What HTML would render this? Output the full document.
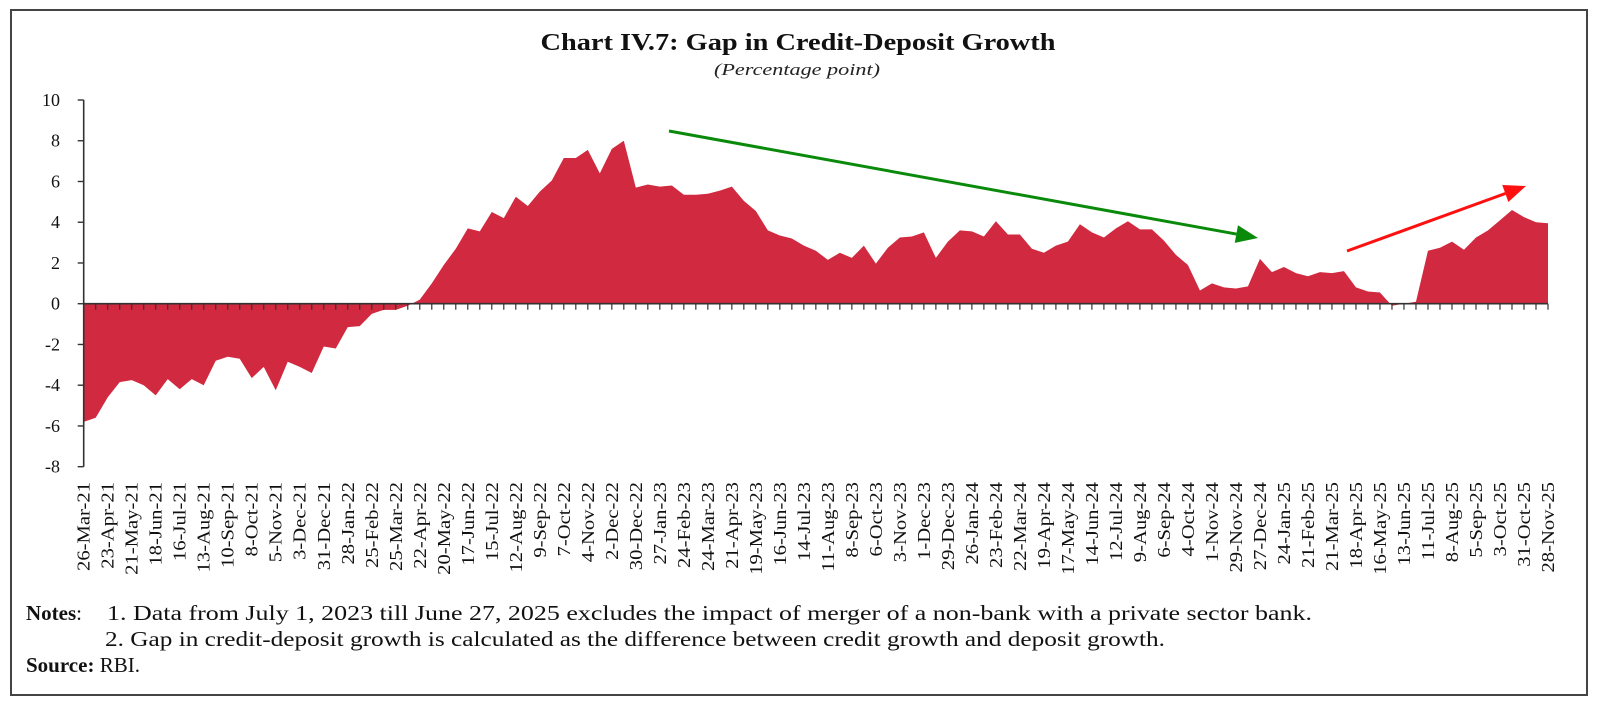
<!DOCTYPE html>
<html><head><meta charset="utf-8"><style>
html,body{margin:0;padding:0;background:#fff;}
svg{display:block;font-family:"Liberation Serif",serif;}
</style></head><body>
<svg id="chart" width="1600" height="707" viewBox="0 0 1600 707" xmlns="http://www.w3.org/2000/svg">
<rect x="11" y="10" width="1576" height="685" fill="#fff" stroke="#444" stroke-width="2"/>
<text x="798" y="50" text-anchor="middle" font-size="24" font-weight="bold" fill="#111" textLength="515" lengthAdjust="spacingAndGlyphs">Chart IV.7: Gap in Credit-Deposit Growth</text>
<text x="797" y="75" text-anchor="middle" font-size="17" font-style="italic" fill="#222" textLength="166" lengthAdjust="spacingAndGlyphs">(Percentage point)</text>
<g id="plot"></g>
<text x="26" y="620" font-size="21" fill="#111"><tspan font-weight="bold">Notes</tspan>:</text>
<text x="107" y="620" font-size="21" fill="#111" textLength="1205" lengthAdjust="spacingAndGlyphs">1. Data from July 1, 2023 till June 27, 2025 excludes the impact of merger of a non-bank with a private sector bank.</text>
<text x="105" y="646" font-size="21" fill="#111" textLength="1060" lengthAdjust="spacingAndGlyphs">2. Gap in credit-deposit growth is calculated as the difference between credit growth and deposit growth.</text>
<text x="26" y="672" font-size="21" fill="#111"><tspan font-weight="bold">Source:</tspan> RBI.</text>
</svg>
<script>
const gapValues = [-5.8,-5.6,-4.6,-3.85,-3.75,-4.0,-4.5,-3.7,-4.2,-3.7,-4.0,-2.8,-2.6,-2.7,-3.65,-3.1,-4.25,-2.85,-3.1,-3.4,-2.1,-2.2,-1.15,-1.1,-0.5,-0.3,-0.3,-0.1,0.2,
1.0,1.9,2.7,3.7,3.55,4.5,4.2,5.25,4.8,5.5,6.05,7.15,7.15,7.55,6.4,7.6,8.0,5.7,5.85,5.75,5.8,5.35,5.35,5.4,5.55,5.75,5.05,4.55,3.6,3.35,3.2,2.85,2.6,
2.15,2.5,2.25,2.85,1.97,2.75,3.25,3.3,3.5,2.25,3.05,3.6,3.55,3.3,4.05,3.4,3.4,2.7,2.5,2.85,3.05,3.9,3.5,3.25,3.7,4.05,3.65,3.65,3.1,2.4,1.9,
0.65,1.0,0.8,0.75,0.85,2.2,1.55,1.8,1.5,1.35,1.55,1.5,1.6,0.8,0.6,0.55,-0.1,0.0,0.1,2.6,2.75,3.05,2.65,3.25,3.6,4.1,4.6,4.25,4.0,3.95];
const xLabels = ["26-Mar-21","23-Apr-21","21-May-21","18-Jun-21","16-Jul-21","13-Aug-21","10-Sep-21","8-Oct-21","5-Nov-21","3-Dec-21","31-Dec-21","28-Jan-22","25-Feb-22","25-Mar-22","22-Apr-22","20-May-22","17-Jun-22","15-Jul-22","12-Aug-22","9-Sep-22","7-Oct-22","4-Nov-22","2-Dec-22","30-Dec-22","27-Jan-23","24-Feb-23","24-Mar-23","21-Apr-23","19-May-23","16-Jun-23","14-Jul-23","11-Aug-23","8-Sep-23","6-Oct-23","3-Nov-23","1-Dec-23","29-Dec-23","26-Jan-24","23-Feb-24","22-Mar-24","19-Apr-24","17-May-24","14-Jun-24","12-Jul-24","9-Aug-24","6-Sep-24","4-Oct-24","1-Nov-24","29-Nov-24","27-Dec-24","24-Jan-25","21-Feb-25","21-Mar-25","18-Apr-25","16-May-25","13-Jun-25","11-Jul-25","8-Aug-25","5-Sep-25","3-Oct-25","31-Oct-25","28-Nov-25"];
const yTicks = [10,8,6,4,2,0,-2,-4,-6,-8];

const NS = "http://www.w3.org/2000/svg";
const plot = document.getElementById('plot');
const X0 = 83.7, X1 = 1548, Y_TOP = 100, Y_BOT = 466.7, VMAX = 10, VMIN = -8;
const n = gapValues.length;
function xPos(i){ return X0 + (X1 - X0) * i / (n - 1); }
function yPos(v){ return Y_TOP + (VMAX - v) / (VMAX - VMIN) * (Y_BOT - Y_TOP); }
function mk(tag, attrs){ const e = document.createElementNS(NS, tag); for (const k in attrs) e.setAttribute(k, attrs[k]); plot.appendChild(e); return e; }

let d = `M${xPos(0)},${yPos(0)}`;
gapValues.forEach((v, i) => { d += ` L${xPos(i).toFixed(2)},${yPos(v).toFixed(2)}`; });
d += ` L${xPos(n-1)},${yPos(0)} Z`;
const area = mk('path', {d: d, fill: '#d1293f'});



const yAxis = mk('line', {x1: X0, y1: Y_TOP, x2: X0, y2: Y_BOT, stroke: '#333', 'stroke-width': 1.6});


yTicks.forEach(t => {
  const tk = mk('line', {x1: X0 - 6, y1: yPos(t), x2: X0, y2: yPos(t), stroke: '#333', 'stroke-width': 1.4});
  
  
  const lb = mk('text', {x: 60, y: yPos(t) + 6, 'text-anchor': 'end', 'font-size': 18, fill: '#111'});
  lb.textContent = t;
  
  
});

const xAxis = mk('line', {x1: X0, y1: yPos(0), x2: X1, y2: yPos(0), stroke: '#333', 'stroke-width': 1.6});


for (let i = 0; i < n; i++) {
  const tk = mk('line', {x1: xPos(i), y1: yPos(0), x2: xPos(i), y2: yPos(0) + 6, stroke: '#333', 'stroke-width': 1.2});
  
  
}
xLabels.forEach((lab, k) => {
  const x = xPos(k * 2);
  const t = mk('text', {x: 0, y: 0, 'text-anchor': 'end', 'font-size': 17.5, fill: '#111',
    transform: `translate(${(x + 6).toFixed(2)},482) rotate(-90) scale(1.18,1)`});
  t.textContent = lab;
  
  
});

function arrow(x1, y1, x2, y2, color, name){
  const ang = Math.atan2(y2 - y1, x2 - x1), L = 22, W = 9;
  const bx = x2 - L * Math.cos(ang), by = y2 - L * Math.sin(ang);
  const ln = mk('line', {x1: x1, y1: y1, x2: bx, y2: by, stroke: color, 'stroke-width': 3});
  
  
  const px = -Math.sin(ang) * W, py = Math.cos(ang) * W;
  const hd = mk('polygon', {points: `${x2},${y2} ${bx+px},${by+py} ${bx-px},${by-py}`, fill: color});
  
  
}
arrow(669, 131, 1258, 238, '#0a8a0a', 'declining-trend-arrow');
arrow(1347, 251, 1526, 186, '#ff1010', 'rising-trend-arrow');
</script>
</body></html>
